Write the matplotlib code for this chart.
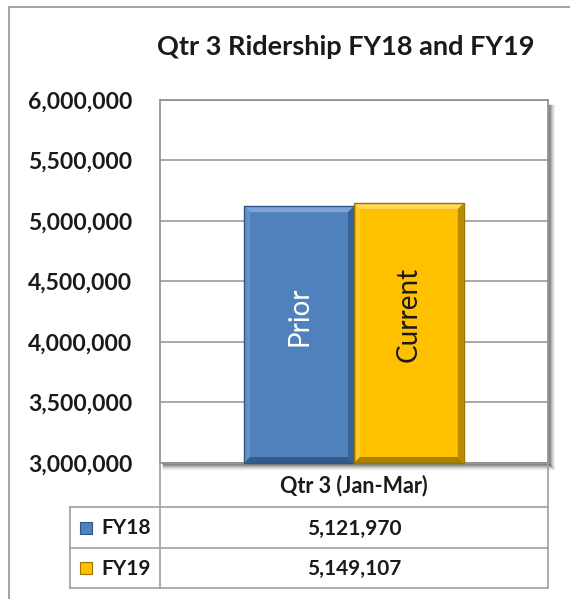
import matplotlib
matplotlib.use("Agg")
import matplotlib.pyplot as plt
from matplotlib.patches import Rectangle, Polygon
from matplotlib.lines import Line2D

# data
category = "Qtr 3 (Jan-Mar)"
series = ["FY18", "FY19"]
values = [5121970, 5149107]
bar_labels = ["Prior", "Current"]
colors = ["#4F81BD", "#FFC000"]
dark = ["#2E5584", "#9C7400"]
light = ["#7FA3D4", "#FFD75A"]
y_ticks = [3000000, 3500000, 4000000, 4500000, 5000000, 5500000, 6000000]

W, H = 570, 599
plt.rcParams["font.family"] = ["Lato", "DejaVu Sans"]
fig = plt.figure(figsize=(W / 100, H / 100), dpi=100)
fig.patch.set_facecolor("white")


def fx(px):
    return px / W


def fy(py):
    return 1 - py / H


# outer chart border (runs off right / bottom)
fig.add_artist(Line2D([fx(9), fx(9)], [fy(7), 0], color="#A6A6A6", lw=1.5))
fig.add_artist(Line2D([fx(9), 1], [fy(7), fy(7)], color="#A6A6A6", lw=1.5))

fig.text(fx(346), fy(47), "Qtr 3 Ridership FY18 and FY19", ha="center", va="center",
         fontsize=19.5, fontweight="bold", color="#1a1a1a")

L, R, T, B = 160, 548, 100, 463
ax = fig.add_axes([fx(L), fy(B), fx(R - L), (B - T) / H])
ax.set_xlim(-0.5, 0.5)
ax.set_ylim(y_ticks[0], y_ticks[-1])
ax.set_yticks(y_ticks)
ax.set_yticklabels([f"{v:,}" for v in y_ticks], fontsize=16.5, fontweight="bold", color="#1a1a1a")
ax.tick_params(axis="y", length=0, pad=20)
ax.set_xticks([])
ax.grid(axis="y", color="#9A9A9A", lw=1.2)
ax.set_axisbelow(True)
for s in ax.spines.values():
    s.set_color("#8C8C8C")
    s.set_linewidth(1.2)

# plot area shadow on right and bottom
for i, a in enumerate([0.6, 0.45, 0.32, 0.2, 0.12, 0.06]):
    off = i + 1
    fig.add_artist(Line2D([fx(R + off), fx(R + off)], [fy(T + 5), fy(B + off)],
                          color="#404040", alpha=a, lw=1))
    fig.add_artist(Line2D([fx(L + 3), fx(R + off)], [fy(B + off), fy(B + off)],
                          color="#404040", alpha=a, lw=1))

bw = 0.283
xs = [-bw / 2, bw / 2]
bars = ax.bar(xs, [v - y_ticks[0] for v in values], bottom=y_ticks[0], width=bw,
              color=colors, edgecolor="none", zorder=3)

# bevel look on each bar, in display pixels
bev = 6
for bar, c, d, lt in zip(bars, colors, dark, light):
    x0, y0 = ax.transData.transform((bar.get_x(), bar.get_y()))
    x1, y1 = ax.transData.transform((bar.get_x() + bar.get_width(), bar.get_y() + bar.get_height()))
    kw = dict(transform=None, zorder=4, lw=0)
    fig.add_artist(Polygon([(x0, y1), (x1, y1), (x1 - bev, y1 - bev), (x0 + bev, y1 - bev)],
                           facecolor=lt, **kw))
    fig.add_artist(Polygon([(x0, y0), (x0, y1), (x0 + bev, y1 - bev), (x0 + bev, y0 + bev)],
                           facecolor=lt, alpha=0.45, **kw))
    fig.add_artist(Polygon([(x1, y0), (x1, y1), (x1 - bev, y1 - bev), (x1 - bev, y0 + bev)],
                           facecolor=d, alpha=0.7, **kw))
    fig.add_artist(Polygon([(x0, y0), (x1, y0), (x1 - bev, y0 + bev), (x0 + bev, y0 + bev)],
                           facecolor=d, alpha=0.85, **kw))
    fig.add_artist(Rectangle((x0, y0), x1 - x0, y1 - y0, fill=False, edgecolor=d,
                             lw=1, transform=None, zorder=5))

for bar, lab, tc in zip(bars, bar_labels, ["white", "#1a1a1a"]):
    ax.text(bar.get_x() + bar.get_width() / 2, y_ticks[0] + bar.get_height() * 0.57, lab,
            rotation=90, ha="center", va="center", fontsize=20, color=tc, zorder=6)

# data table
grid = "#A0A0A0"
rows_y = [463, 507, 548, 588]
left_col = 70
fig.add_artist(Line2D([fx(R), fx(R)], [fy(B), fy(rows_y[-1])], color=grid, lw=1.2))
fig.add_artist(Line2D([fx(L), fx(L)], [fy(B), fy(rows_y[-1])], color=grid, lw=1.2))
fig.add_artist(Line2D([fx(left_col), fx(left_col)], [fy(rows_y[1]), fy(rows_y[-1])], color=grid, lw=1.2))
for yy in rows_y[1:]:
    fig.add_artist(Line2D([fx(left_col), fx(R)], [fy(yy), fy(yy)], color=grid, lw=1.2))

fig.text(fx((L + R) / 2), fy((rows_y[0] + rows_y[1]) / 2 + 1), category, ha="center", va="center",
         fontsize=15.5, fontweight="bold", color="#1a1a1a")
for i, (name, v, c, d) in enumerate(zip(series, values, colors, dark)):
    yc = (rows_y[i + 1] + rows_y[i + 2]) / 2
    fig.add_artist(Rectangle((fx(80), fy(yc + 6)), fx(12), 12 / H, facecolor=c,
                             edgecolor=d, lw=0.8))
    fig.text(fx(101), fy(yc + 1), name, ha="left", va="center", fontsize=15,
             fontweight="bold", color="#1a1a1a")
    fig.text(fx((L + R) / 2), fy(yc + 1), f"{v:,}", ha="center", va="center",
             fontsize=15, fontweight="bold", color="#1a1a1a")

fig.savefig("out.png", dpi=100)
